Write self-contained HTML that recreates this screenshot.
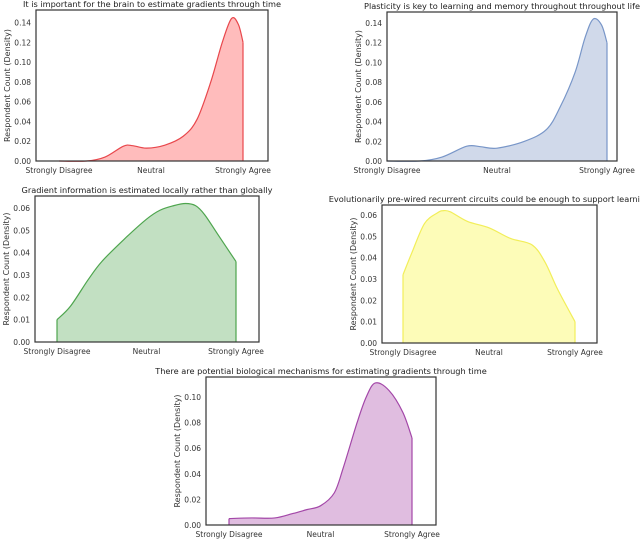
<!DOCTYPE html>
<html><head><meta charset="utf-8">
<style>
body{margin:0;background:#fff;}
svg{display:block;font-family:"DejaVu Sans","Liberation Sans",sans-serif;}
</style></head>
<body>
<svg id="fig" width="640" height="539" viewBox="0 0 640 539"></svg>
<script>
const categories = ["Strongly Disagree","Neutral","Strongly Agree"];
const p1x = [-2,-1.4,-1.0,-0.6,-0.4,-0.1,0.3,0.7,1.0,1.3,1.55,1.75,1.9,2.0];
const p1y = [0,0,0.004,0.015,0.0155,0.013,0.016,0.025,0.042,0.08,0.12,0.144,0.138,0.12];
const p2x = [-2,-1.4,-1.0,-0.55,-0.3,0,0.5,0.9,1.15,1.42,1.6,1.75,1.9,2.0];
const p2y = [0,0,0.004,0.015,0.0145,0.013,0.02,0.032,0.055,0.09,0.125,0.144,0.138,0.12];
const p3x = [-2,-1.7,-1.3,-1.0,-0.5,0,0.3,0.6,0.87,1.1,1.3,1.6,2.0];
const p3y = [0.01,0.016,0.028,0.036,0.046,0.055,0.059,0.061,0.062,0.061,0.057,0.048,0.036];
const p4x = [-2,-1.8,-1.5,-1.2,-1.07,-0.9,-0.5,0,0.5,1.0,1.3,1.6,2.0];
const p4y = [0.032,0.042,0.056,0.061,0.062,0.0615,0.057,0.054,0.049,0.046,0.038,0.025,0.01];
const p5x = [-2,-1.5,-1.0,-0.6,-0.3,0,0.3,0.5,0.8,1.0,1.2,1.5,1.8,2.0];
const p5y = [0.005,0.0055,0.0055,0.009,0.012,0.015,0.025,0.045,0.08,0.1,0.111,0.105,0.088,0.068];
const ticks1 = [0,0.02,0.04,0.06,0.08,0.10,0.12,0.14];
const ticks3 = [0,0.01,0.02,0.03,0.04,0.05,0.06];
const ticks5 = [0,0.02,0.04,0.06,0.08,0.10];

const NS="http://www.w3.org/2000/svg";
const svg=document.getElementById('fig');
function mk(tag,attrs,parent){const e=document.createElementNS(NS,tag);for(const k in attrs)e.setAttribute(k,attrs[k]);(parent||svg).appendChild(e);return e;}

const panels=[
 {name:"panel-brain-gradients",title:"It is important for the brain to estimate gradients through time",xs:p1x,ys:p1y,ticks:ticks1,dec:2,
  box:[36,10,268,161],sd:59,sa:243,y0:161,yTop:22.5,yTopVal:0.14,stroke:"#e8474c",fill:"#ffbcbc"},
 {name:"panel-plasticity",title:"Plasticity is key to learning and memory throughout throughout life",xs:p2x,ys:p2y,ticks:ticks1,dec:2,
  box:[387,12,617,161],sd:387,sa:607,y0:161,yTop:23,yTopVal:0.14,stroke:"#7896c8",fill:"#d0d9ea"},
 {name:"panel-local-gradient",title:"Gradient information is estimated locally rather than globally",xs:p3x,ys:p3y,ticks:ticks3,dec:2,
  box:[35,196,259,342],sd:57,sa:236,y0:342,yTop:208,yTopVal:0.06,stroke:"#4ea54e",fill:"#c2e0c2"},
 {name:"panel-prewired-circuits",title:"Evolutionarily pre-wired recurrent circuits could be enough to support learning",xs:p4x,ys:p4y,ticks:ticks3,dec:2,
  box:[382,205,597,343],sd:403,sa:575,y0:343,yTop:215,yTopVal:0.06,stroke:"#f2ee5a",fill:"#fdfcb8"},
 {name:"panel-biological-mechanisms",title:"There are potential biological mechanisms for estimating gradients through time",xs:p5x,ys:p5y,ticks:ticks5,dec:2,
  box:[206,377,436,525],sd:229,sa:412,y0:525,yTop:397,yTopVal:0.10,stroke:"#a347a8",fill:"#e0bde0"}
];

function smoothPath(pts){
  let d=`M${pts[0][0]},${pts[0][1]}`;
  for(let i=0;i<pts.length-1;i++){
    const p0=pts[Math.max(0,i-1)],p1=pts[i],p2=pts[i+1],p3=pts[Math.min(pts.length-1,i+2)];
    const c1=[p1[0]+(p2[0]-p0[0])/6,p1[1]+(p2[1]-p0[1])/6];
    const c2=[p2[0]-(p3[0]-p1[0])/6,p2[1]-(p3[1]-p1[1])/6];
    d+=` C${c1[0]},${c1[1]} ${c2[0]},${c2[1]} ${p2[0]},${p2[1]}`;
  }
  return d;
}

panels.forEach(p=>{
  const g=mk('g',{});
  
  
  const [x1,y1,x2,y2]=p.box;
  const sx=v=>p.sd+(v+2)*(p.sa-p.sd)/4;
  const sy=v=>p.y0-v*(p.y0-p.yTop)/p.yTopVal;
  const pts=p.xs.map((x,i)=>[sx(x),sy(p.ys[i])]);
  const line=smoothPath(pts);
  const area=mk('path',{d:line+` L${pts[pts.length-1][0]},${sy(0)} L${pts[0][0]},${sy(0)} Z`,fill:p.fill,stroke:"none"},g);
  
  
  const ln=mk('path',{d:line,fill:"none",stroke:p.stroke,"stroke-width":1.2},g);
  
  
  const last=pts[pts.length-1],first=pts[0];
  mk('line',{x1:last[0],y1:last[1],x2:last[0],y2:sy(0),stroke:p.stroke,"stroke-width":1.2},g);
  mk('line',{x1:first[0],y1:first[1],x2:first[0],y2:sy(0),stroke:p.stroke,"stroke-width":1.2},g);
  const box=mk('rect',{x:x1,y:y1,width:x2-x1,height:y2-y1,fill:"none",stroke:"#333","stroke-width":1.2},g);
  
  
  const t=mk('text',{x:(x1+x2)/2,y:y1-3,"text-anchor":"middle","font-size":8.2,fill:"#222"},g);
  t.textContent=p.title;
  
  
  p.ticks.forEach(v=>{
    const tt=mk('text',{x:x1-5,y:sy(v)+3,"text-anchor":"end","font-size":7.5,fill:"#333"},g);
    tt.textContent=v.toFixed(2);
    
    
  });
  categories.forEach((c,i)=>{
    const xt=mk('text',{x:sx(-2+2*i),y:y2+12,"text-anchor":"middle","font-size":7.5,fill:"#333"},g);
    xt.textContent=c;
    
    
  });
  const yl=mk('text',{transform:`translate(${x1-26},${(y1+y2)/2}) rotate(-90)`,"text-anchor":"middle","font-size":8,fill:"#333"},g);
  yl.textContent="Respondent Count (Density)";
  
  
});
</script>
</body></html>
